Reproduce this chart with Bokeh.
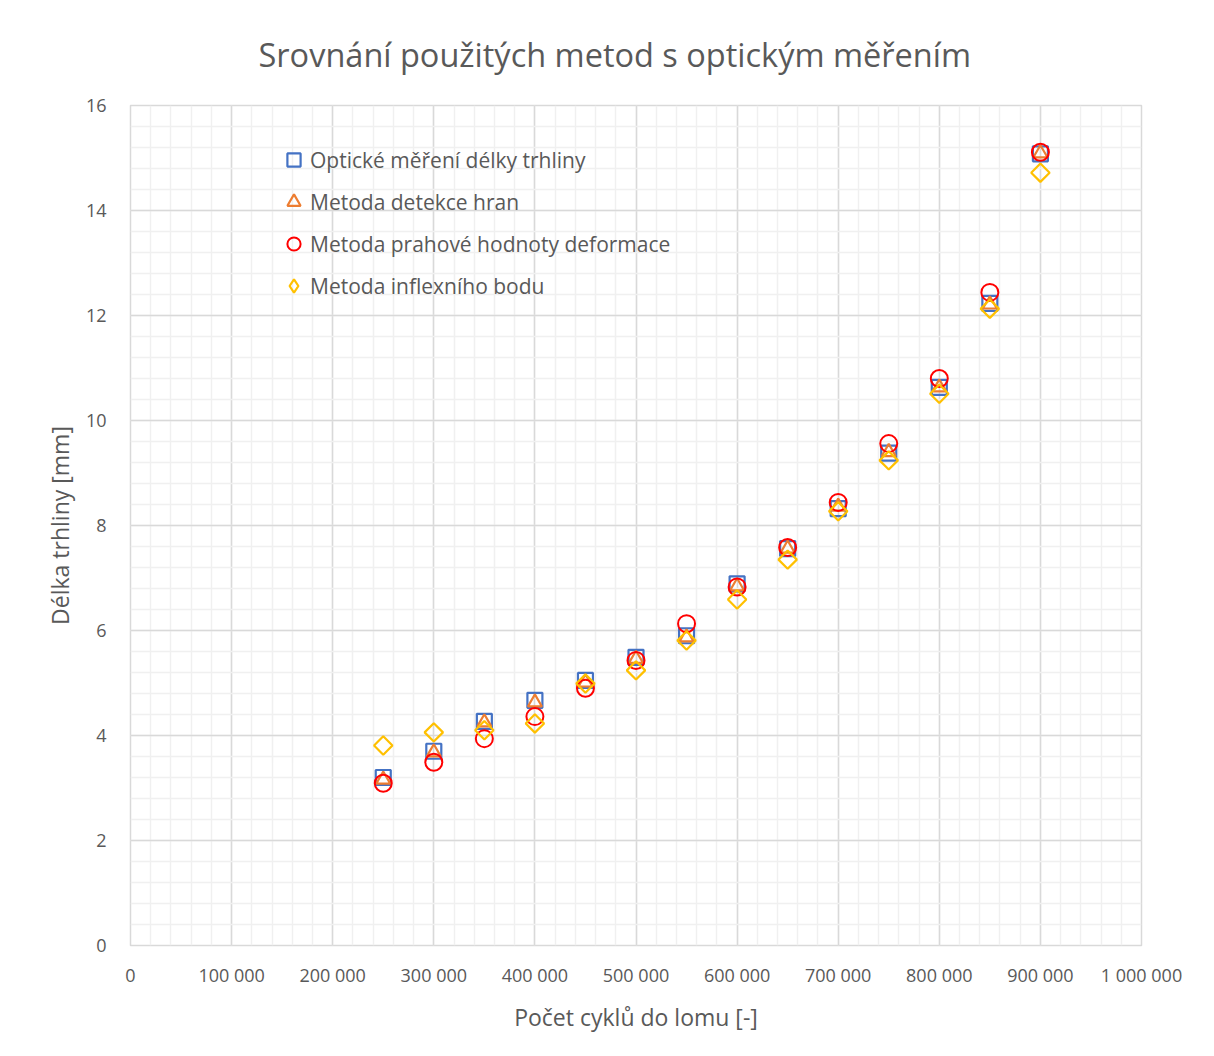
from bokeh.plotting import figure
from bokeh.models import Range1d, FixedTicker, Legend, LegendItem
from bokeh.embed import file_html
from bokeh.resources import INLINE
import math

cycles = [250000, 300000, 350000, 400000, 450000, 500000, 550000, 600000,
          650000, 700000, 750000, 800000, 850000, 900000]
opticke = [3.20, 3.70, 4.27, 4.67, 5.05, 5.49, 5.90, 6.89, 7.56, 8.32, 9.38, 10.63, 12.23, 15.08]
hrany = [3.16, 3.68, 4.25, 4.63, 5.01, 5.46, 5.87, 6.84, 7.56, 8.36, 9.40, 10.63, 12.21, 15.09]
prah = [3.09, 3.49, 3.94, 4.36, 4.90, 5.43, 6.13, 6.83, 7.58, 8.44, 9.56, 10.80, 12.44, 15.11]
inflex = [3.81, 4.06, 4.10, 4.23, 4.99, 5.24, 5.81, 6.59, 7.35, 8.27, 9.24, 10.51, 12.13, 14.72]

series_names = ["Optické měření délky trhliny", "Metoda detekce hran",
                "Metoda prahové hodnoty deformace", "Metoda inflexního bodu"]

x_ticks = list(range(0, 1000001, 100000))
x_tick_labels = ["0", "100 000", "200 000", "300 000", "400 000", "500 000",
                 "600 000", "700 000", "800 000", "900 000", "1 000 000"]
y_ticks = [0, 2, 4, 6, 8, 10, 12, 14, 16]

FONT = "Open Sans"
TXT = "#595959"

p = figure(width=1198, height=1040, output_backend="svg", toolbar_location=None,
           x_range=Range1d(0, 1000000), y_range=Range1d(0, 16),
           min_border_left=130, min_border_right=57, min_border_top=105, min_border_bottom=95,
           title="Srovnání použitých metod s optickým měřením")

p.title.align = "left"
p.title.offset = 128
p.title.text_font = FONT
p.title.text_font_size = "32.5px"
p.title.text_font_style = "normal"
p.title.text_color = TXT
p.title.standoff = 58

p.outline_line_color = "#d9d9d9"
p.outline_line_width = 1.5
p.background_fill_color = "white"
p.border_fill_color = "white"

p.xaxis.ticker = FixedTicker(ticks=x_ticks, minor_ticks=list(range(0, 1000001, 20000)))
p.yaxis.ticker = FixedTicker(ticks=y_ticks, minor_ticks=[round(i * 0.4, 1) for i in range(41)])
p.xaxis.major_label_overrides = {t: l for t, l in zip(x_ticks, x_tick_labels)}

for ax in (p.xaxis, p.yaxis):
    ax.axis_line_color = None
    ax.major_tick_line_color = None
    ax.minor_tick_line_color = None
    ax.major_tick_out = 0
    ax.major_tick_in = 0
    ax.major_label_text_font = FONT
    ax.major_label_text_font_size = "18px"
    ax.major_label_text_color = TXT
    ax.axis_label_text_font = FONT
    ax.axis_label_text_font_size = "23px"
    ax.axis_label_text_font_style = "normal"
    ax.axis_label_text_color = TXT

p.xaxis.axis_label = "Počet cyklů do lomu [-]"
p.yaxis.axis_label = "Délka trhliny [mm]"
p.xaxis.major_label_standoff = 13
p.yaxis.major_label_standoff = 20
p.xaxis.axis_label_standoff = 11
p.yaxis.axis_label_standoff = 7

for g in (p.xgrid, p.ygrid):
    g.grid_line_color = "#d9d9d9"
    g.grid_line_width = 1.5
    g.minor_grid_line_color = "#f0f0f0"
    g.minor_grid_line_width = 1.5

r1 = p.scatter(cycles, opticke, marker="square", size=15, fill_color=None,
               line_color="#4472C4", line_width=2.2)
r2 = p.scatter(cycles, hrany, marker="triangle", size=14, fill_color=None,
               line_color="#ED7D31", line_width=2.2)
r3 = p.scatter(cycles, prah, marker="circle", size=17, fill_color=None,
               line_color="#FF0000", line_width=2)
r4 = p.scatter(cycles, inflex, marker="square", size=13, angle=math.pi / 4, fill_color=None,
               line_color="#FFC000", line_width=2.2)
# legend-only swatch for the diamond series (legend does not honour marker angle)
r4_legend = p.scatter(cycles, inflex, marker="diamond", fill_color=None,
                      line_color="#FFC000", line_width=2.2, visible=False)

legend = Legend(items=[LegendItem(label=n, renderers=[r]) for n, r in
                       zip(series_names, [r1, r2, r3, r4_legend])],
                location=(147, 643))
legend.padding = 0
legend.margin = 0
legend.spacing = 9
legend.glyph_width = 33
legend.glyph_height = 33
legend.label_height = 20
legend.label_standoff = 0
legend.label_text_font = FONT
legend.label_text_font_size = "21px"
legend.label_text_color = TXT
legend.border_line_color = None
legend.background_fill_alpha = 0
p.add_layout(legend)

open("out.html", "w").write(file_html(p, INLINE))
